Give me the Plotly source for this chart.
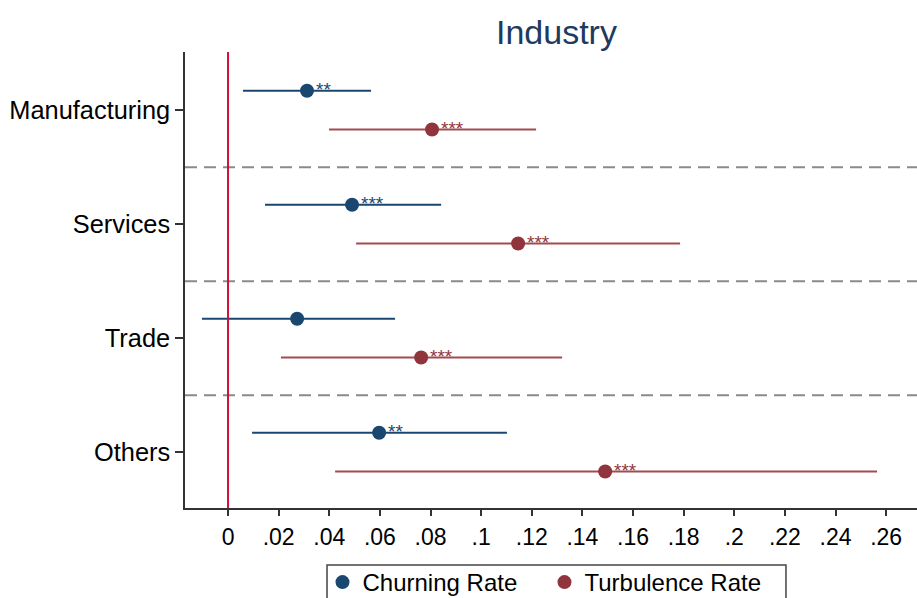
import plotly.graph_objects as go

# Industry groups, top to bottom
industries = ["Manufacturing", "Services", "Trade", "Others"]

# Churning rate: point estimates, 95% CI bounds, significance stars
churn_coef = [0.0312, 0.0490, 0.0273, 0.0597]
churn_lo = [0.0059, 0.0146, -0.0103, 0.0095]
churn_hi = [0.0565, 0.0842, 0.0660, 0.1102]
churn_sig = ["**", "***", "", "**"]

# Turbulence rate: point estimates, 95% CI bounds, significance stars
turb_coef = [0.0806, 0.1146, 0.0763, 0.1490]
turb_lo = [0.0399, 0.0506, 0.0209, 0.0423]
turb_hi = [0.1217, 0.1786, 0.1320, 0.2564]
turb_sig = ["***", "***", "***", "***"]

x_ticks = [i * 0.02 for i in range(14)]
x_tick_text = ["0", ".02", ".04", ".06", ".08", ".1", ".12", ".14", ".16",
               ".18", ".2", ".22", ".24", ".26"]

BLUE = "#1a476f"
RED = "#90353b"
RED_LINE = "#a44b51"
FONT = "Liberation Sans, Arial, sans-serif"

base = list(range(1, len(industries) + 1))
offset = 0.17
series = [
    ("Churning Rate", churn_coef, churn_lo, churn_hi, churn_sig, -offset, BLUE, BLUE),
    ("Turbulence Rate", turb_coef, turb_lo, turb_hi, turb_sig, offset, RED, RED_LINE),
]

fig = go.Figure()
annotations = []
for name, coef, lo, hi, sig, off, col, lcol in series:
    ys = [b + off for b in base]
    # confidence interval segments
    xs_ci, ys_ci = [], []
    for l, h, y in zip(lo, hi, ys):
        xs_ci += [l, h, None]
        ys_ci += [y, y, None]
    fig.add_trace(go.Scatter(x=xs_ci, y=ys_ci, mode="lines",
                             line=dict(color=lcol, width=2),
                             showlegend=False, hoverinfo="skip"))
    fig.add_trace(go.Scatter(x=coef, y=ys, mode="markers", name=name,
                             marker=dict(color=col, size=14)))
    for c, y, s in zip(coef, ys, sig):
        if s:
            annotations.append(dict(x=c, y=y, text=s, showarrow=False,
                                    xanchor="left", yanchor="middle",
                                    xshift=7, yshift=1,
                                    font=dict(size=19, color=col, family=FONT)))

# separators between industry groups
shapes = []
for b in base[:-1]:
    shapes.append(dict(type="line", xref="paper", x0=0, x1=1, yref="y",
                       y0=b + 0.5, y1=b + 0.5,
                       line=dict(color="#8a8a8a", width=2, dash="12px,7px")))
# zero reference line
shapes.append(dict(type="line", xref="x", x0=0, x1=0, yref="paper", y0=0, y1=1,
                   line=dict(color="#d0103a", width=2)))
# legend frame (runs past the bottom edge of the page)
shapes.append(dict(type="rect", xref="paper", yref="paper",
                   x0=0.194, x1=0.821, y0=-0.26, y1=-0.125,
                   line=dict(color="#444444", width=1.5),
                   fillcolor="rgba(0,0,0,0)", layer="above"))

fig.update_layout(
    width=917, height=598,
    margin=dict(l=185, r=0, t=52, b=90),
    paper_bgcolor="white", plot_bgcolor="white",
    font=dict(family=FONT, color="black", size=24),
    title=dict(text="Industry", x=0.5075, xref="paper", xanchor="center",
               y=1 - 32 / 598, yref="container", yanchor="middle",
               font=dict(size=34, color="#1e3a5f", family=FONT)),
    xaxis=dict(range=[-0.017, 0.2722], tickvals=x_ticks, ticktext=x_tick_text,
               showgrid=False, zeroline=False, showline=True,
               linecolor="#333333", linewidth=1.5,
               ticks="outside", ticklen=6, tickcolor="#333333", tickwidth=1.5,
               ticklabelstandoff=2,
               tickfont=dict(size=23, color="black")),
    yaxis=dict(range=[4.49, 0.49], tickvals=base, ticktext=industries,
               showgrid=False, zeroline=False, showline=True,
               linecolor="#333333", linewidth=1.5,
               ticks="outside", ticklen=8, tickcolor="#333333", tickwidth=1.5,
               tickfont=dict(size=25.4, color="black")),
    legend=dict(orientation="h", x=0.4911, xanchor="center",
                y=1 - 560 / 598, yref="container",
                yanchor="top", borderwidth=0,
                font=dict(size=24, color="black"), itemwidth=30,
                entrywidth=177, bgcolor="rgba(0,0,0,0)"),
    shapes=shapes,
    annotations=annotations,
)

fig.write_html("out.html")
